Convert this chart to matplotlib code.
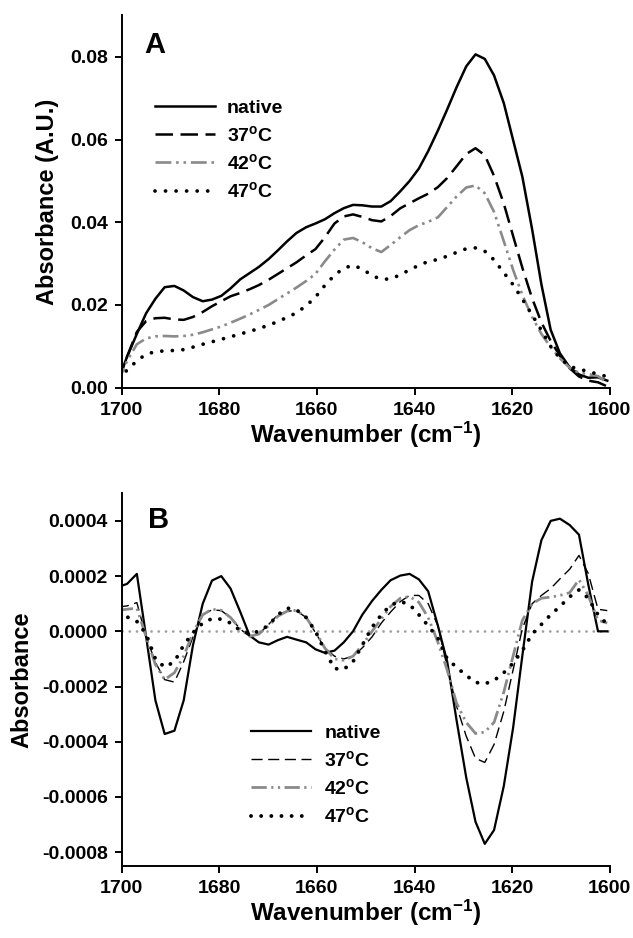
import matplotlib
matplotlib.use("Agg")
import matplotlib.pyplot as plt
from matplotlib.ticker import FormatStrFormatter

plt.rcParams["font.family"] = ["Liberation Sans", "DejaVu Sans"]
plt.rcParams["font.weight"] = "bold"
plt.rcParams["axes.labelweight"] = "bold"
plt.rcParams["mathtext.fontset"] = "custom"
plt.rcParams["mathtext.rm"] = "Liberation Sans:bold"
plt.rcParams["mathtext.bf"] = "Liberation Sans:bold"
plt.rcParams["mathtext.it"] = "Liberation Sans:bold"
plt.rcParams["axes.unicode_minus"] = False

# spectral grid (cm-1)
wavenumber = [1700.8, 1698.9, 1696.9, 1695.0, 1693.1, 1691.2, 1689.2, 1687.3, 1685.4, 1683.4,
              1681.5, 1679.6, 1677.7, 1675.7, 1673.8, 1671.9, 1669.9, 1668.0, 1666.1, 1664.2,
              1662.2, 1660.3, 1658.4, 1656.4, 1654.5, 1652.6, 1650.7, 1648.7, 1646.8, 1644.9,
              1642.9, 1641.0, 1639.1, 1637.2, 1635.2, 1633.3, 1631.4, 1629.4, 1627.5, 1625.6,
              1623.7, 1621.7, 1619.8, 1617.9, 1615.9, 1614.0, 1612.1, 1610.2, 1608.2, 1606.3,
              1604.4, 1602.4, 1600.5]

labels = ["native", r"37$^\mathrm{o}$C", r"42$^\mathrm{o}$C", r"47$^\mathrm{o}$C"]

# panel A - absorbance
abs_native = [0.0015, 0.0075, 0.0130, 0.0180, 0.0215, 0.0243, 0.0246, 0.0235, 0.0219, 0.0209,
              0.0213, 0.0222, 0.0240, 0.0262, 0.0277, 0.0292, 0.0311, 0.0332, 0.0354, 0.0374,
              0.0388, 0.0397, 0.0407, 0.0422, 0.0434, 0.0442, 0.0441, 0.0438, 0.0438, 0.0451,
              0.0475, 0.0500, 0.0530, 0.0572, 0.0622, 0.0673, 0.0726, 0.0777, 0.0806, 0.0795,
              0.0755, 0.0688, 0.0599, 0.0510, 0.0383, 0.0250, 0.0140, 0.0083, 0.0049, 0.0032,
              0.0024, 0.0025, 0.0017]
abs_37 = [0.0015, 0.0075, 0.0135, 0.0161, 0.0168, 0.0169, 0.0165, 0.0164, 0.0171, 0.0183,
          0.0197, 0.0209, 0.0221, 0.0229, 0.0238, 0.0248, 0.0261, 0.0275, 0.0289, 0.0303,
          0.0320, 0.0335, 0.0363, 0.0397, 0.0414, 0.0419, 0.0413, 0.0405, 0.0402, 0.0415,
          0.0434, 0.0446, 0.0458, 0.0469, 0.0485, 0.0507, 0.0535, 0.0565, 0.0579, 0.0562,
          0.0512, 0.0445, 0.0367, 0.0290, 0.0216, 0.0158, 0.0113, 0.0077, 0.0047, 0.0027,
          0.0017, 0.0013, 0.0003]
abs_42 = [0.0012, 0.0065, 0.0105, 0.0119, 0.0124, 0.0125, 0.0124, 0.0125, 0.0128, 0.0134,
          0.0141, 0.0148, 0.0157, 0.0167, 0.0177, 0.0188, 0.0200, 0.0214, 0.0228, 0.0242,
          0.0258, 0.0275, 0.0305, 0.0334, 0.0358, 0.0362, 0.0352, 0.0337, 0.0328, 0.0345,
          0.0364, 0.0381, 0.0393, 0.0401, 0.0412, 0.0437, 0.0462, 0.0484, 0.0489, 0.0470,
          0.0425, 0.0354, 0.0285, 0.0224, 0.0171, 0.0130, 0.0098, 0.0071, 0.0048, 0.0036,
          0.0033, 0.0028, 0.0012]
abs_47 = [0.0025, 0.0042, 0.0065, 0.0081, 0.0087, 0.0089, 0.0090, 0.0092, 0.0098, 0.0105,
          0.0111, 0.0117, 0.0123, 0.0130, 0.0136, 0.0143, 0.0151, 0.0160, 0.0170, 0.0181,
          0.0198, 0.0219, 0.0247, 0.0272, 0.0289, 0.0296, 0.0287, 0.0271, 0.0262, 0.0263,
          0.0273, 0.0285, 0.0296, 0.0305, 0.0310, 0.0318, 0.0327, 0.0336, 0.0338, 0.0330,
          0.0309, 0.0278, 0.0249, 0.0214, 0.0176, 0.0139, 0.0100, 0.0071, 0.0052, 0.0044,
          0.0040, 0.0032, 0.0027]

# panel B - second derivative
der_native = [0.000160, 0.000172, 0.000208, -0.000020, -0.000250, -0.000372, -0.000360, -0.000250, -0.000050, 0.000100,
              0.000184, 0.000200, 0.000155, 0.000070, -0.000015, -0.000040, -0.000048, -0.000032, -0.000020, -0.000030,
              -0.000040, -0.000065, -0.000078, -0.000070, -0.000040, 0.000000, 0.000060, 0.000110, 0.000150, 0.000185,
              0.000202, 0.000208, 0.000188, 0.000145, 0.000020, -0.000110, -0.000320, -0.000530, -0.000690, -0.000770,
              -0.000720, -0.000560, -0.000350, -0.000088, 0.000180, 0.000330, 0.000400, 0.000408, 0.000385, 0.000350,
              0.000170, 0.000000, 0.000000]
der_37 = [0.000088, 0.000092, 0.000104, -0.000020, -0.000112, -0.000175, -0.000184, -0.000110, -0.000020, 0.000060,
          0.000078, 0.000075, 0.000050, 0.000008, -0.000018, -0.000010, 0.000025, 0.000060, 0.000073, 0.000075,
          0.000050, -0.000005, -0.000060, -0.000090, -0.000100, -0.000090, -0.000060, -0.000020, 0.000030, 0.000070,
          0.000108, 0.000130, 0.000130, 0.000100, 0.000020, -0.000130, -0.000270, -0.000380, -0.000460, -0.000475,
          -0.000410, -0.000290, -0.000140, 0.000010, 0.000100, 0.000130, 0.000155, 0.000190, 0.000225, 0.000275,
          0.000210, 0.000080, 0.000075]
der_42 = [0.000076, 0.000080, 0.000084, -0.000020, -0.000120, -0.000175, -0.000150, -0.000090, -0.000005, 0.000060,
          0.000080, 0.000076, 0.000050, 0.000008, -0.000018, -0.000010, 0.000020, 0.000055, 0.000073, 0.000076,
          0.000050, 0.000000, -0.000060, -0.000100, -0.000105, -0.000090, -0.000050, 0.000000, 0.000045, 0.000090,
          0.000120, 0.000126, 0.000105, 0.000050, -0.000040, -0.000140, -0.000260, -0.000330, -0.000370, -0.000365,
          -0.000330, -0.000220, -0.000090, 0.000040, 0.000100, 0.000120, 0.000124, 0.000130, 0.000140, 0.000187,
          0.000130, 0.000040, 0.000030]
der_47 = [0.000052, 0.000052, 0.000036, -0.000010, -0.000100, -0.000130, -0.000110, -0.000050, -0.000005, 0.000030,
          0.000046, 0.000044, 0.000030, 0.000003, -0.000008, 0.000000, 0.000022, 0.000060, 0.000084, 0.000078,
          0.000050, 0.000000, -0.000070, -0.000135, -0.000138, -0.000110, -0.000050, 0.000015, 0.000060, 0.000095,
          0.000108, 0.000097, 0.000060, 0.000020, -0.000025, -0.000100, -0.000130, -0.000160, -0.000185, -0.000190,
          -0.000178, -0.000150, -0.000115, -0.000070, -0.000010, 0.000025, 0.000060, 0.000090, 0.000125, 0.000150,
          0.000120, 0.000060, 0.000025]

GRAY = "#8a8a8a"
styles_a = [
    dict(color="black", lw=1.8, linestyle="-"),
    dict(color="black", lw=1.8, dashes=(7, 3)),
    dict(color=GRAY, lw=1.9, dashes=(6, 1.8, 1, 1.8, 1, 1.8)),
    dict(color="black", lw=2.7, dashes=(0.01, 2.8), dash_capstyle="round"),
]
styles_b = [
    dict(color="black", lw=1.6, linestyle="-"),
    dict(color="black", lw=1.0, dashes=(8, 4)),
    dict(color=GRAY, lw=2.0, dashes=(5.5, 1.6, 0.8, 1.6, 0.8, 1.6)),
    dict(color="black", lw=2.8, dashes=(0.01, 2.6), dash_capstyle="round"),
]


def style_axis(ax):
    ax.spines["top"].set_visible(False)
    ax.spines["right"].set_visible(False)
    for s in ("left", "bottom"):
        ax.spines[s].set_linewidth(1.4)
    ax.tick_params(direction="out", length=5, width=1.4, labelsize=14, pad=5)
    ax.set_xlim(1700, 1600)
    ax.set_xticks(range(1700, 1599, -20))
    ax.set_xlabel(r"Wavenumber (cm$^\mathrm{-1}$)", fontsize=17.5, labelpad=1)


fig = plt.figure(figsize=(6.33, 9.38), dpi=100)

# panel A
ax1 = fig.add_axes([0.1923, 0.5867, 0.7709, 0.3968])
for y, lab, st in zip([abs_native, abs_37, abs_42, abs_47], labels, styles_a):
    ax1.plot(wavenumber, y, label=lab, **st)
style_axis(ax1)
ax1.set_ylim(0, 0.09)
ax1.set_yticks([0, 0.02, 0.04, 0.06, 0.08])
ax1.yaxis.set_major_formatter(FormatStrFormatter("%.2f"))
ax1.set_ylabel("Absorbance (A.U.)", fontsize=17, labelpad=8)
ax1.text(0.046, 0.898, "A", transform=ax1.transAxes, fontsize=21, ha="left", va="baseline")
ax1.legend(loc="upper left", bbox_to_anchor=(0.068, 0.775), frameon=False, fontsize=14,
           handlelength=3.1, handletextpad=0.6, labelspacing=0.42, borderpad=0, borderaxespad=0)

# panel B
ax2 = fig.add_axes([0.1923, 0.0768, 0.7709, 0.3973])
ax2.axhline(0, color="#a0a0a0", lw=2.0, dashes=(0.01, 2.6), dash_capstyle="round", zorder=1)
for y, lab, st in zip([der_native, der_37, der_42, der_47], labels, styles_b):
    ax2.plot(wavenumber, y, label=lab, **st)
style_axis(ax2)
ax2.set_ylim(-0.00085, 0.0005)
ax2.set_yticks([-0.0008, -0.0006, -0.0004, -0.0002, 0, 0.0002, 0.0004])
ax2.yaxis.set_major_formatter(FormatStrFormatter("%.4f"))
ax2.set_ylabel("Absorbance", fontsize=17, labelpad=6)
ax2.text(0.053, 0.906, "B", transform=ax2.transAxes, fontsize=21, ha="left", va="baseline")
ax2.legend(loc="upper left", bbox_to_anchor=(0.264, 0.38), frameon=False, fontsize=14,
           handlelength=3.1, handletextpad=0.7, labelspacing=0.42, borderpad=0, borderaxespad=0)

fig.savefig("out.png", dpi=100)
